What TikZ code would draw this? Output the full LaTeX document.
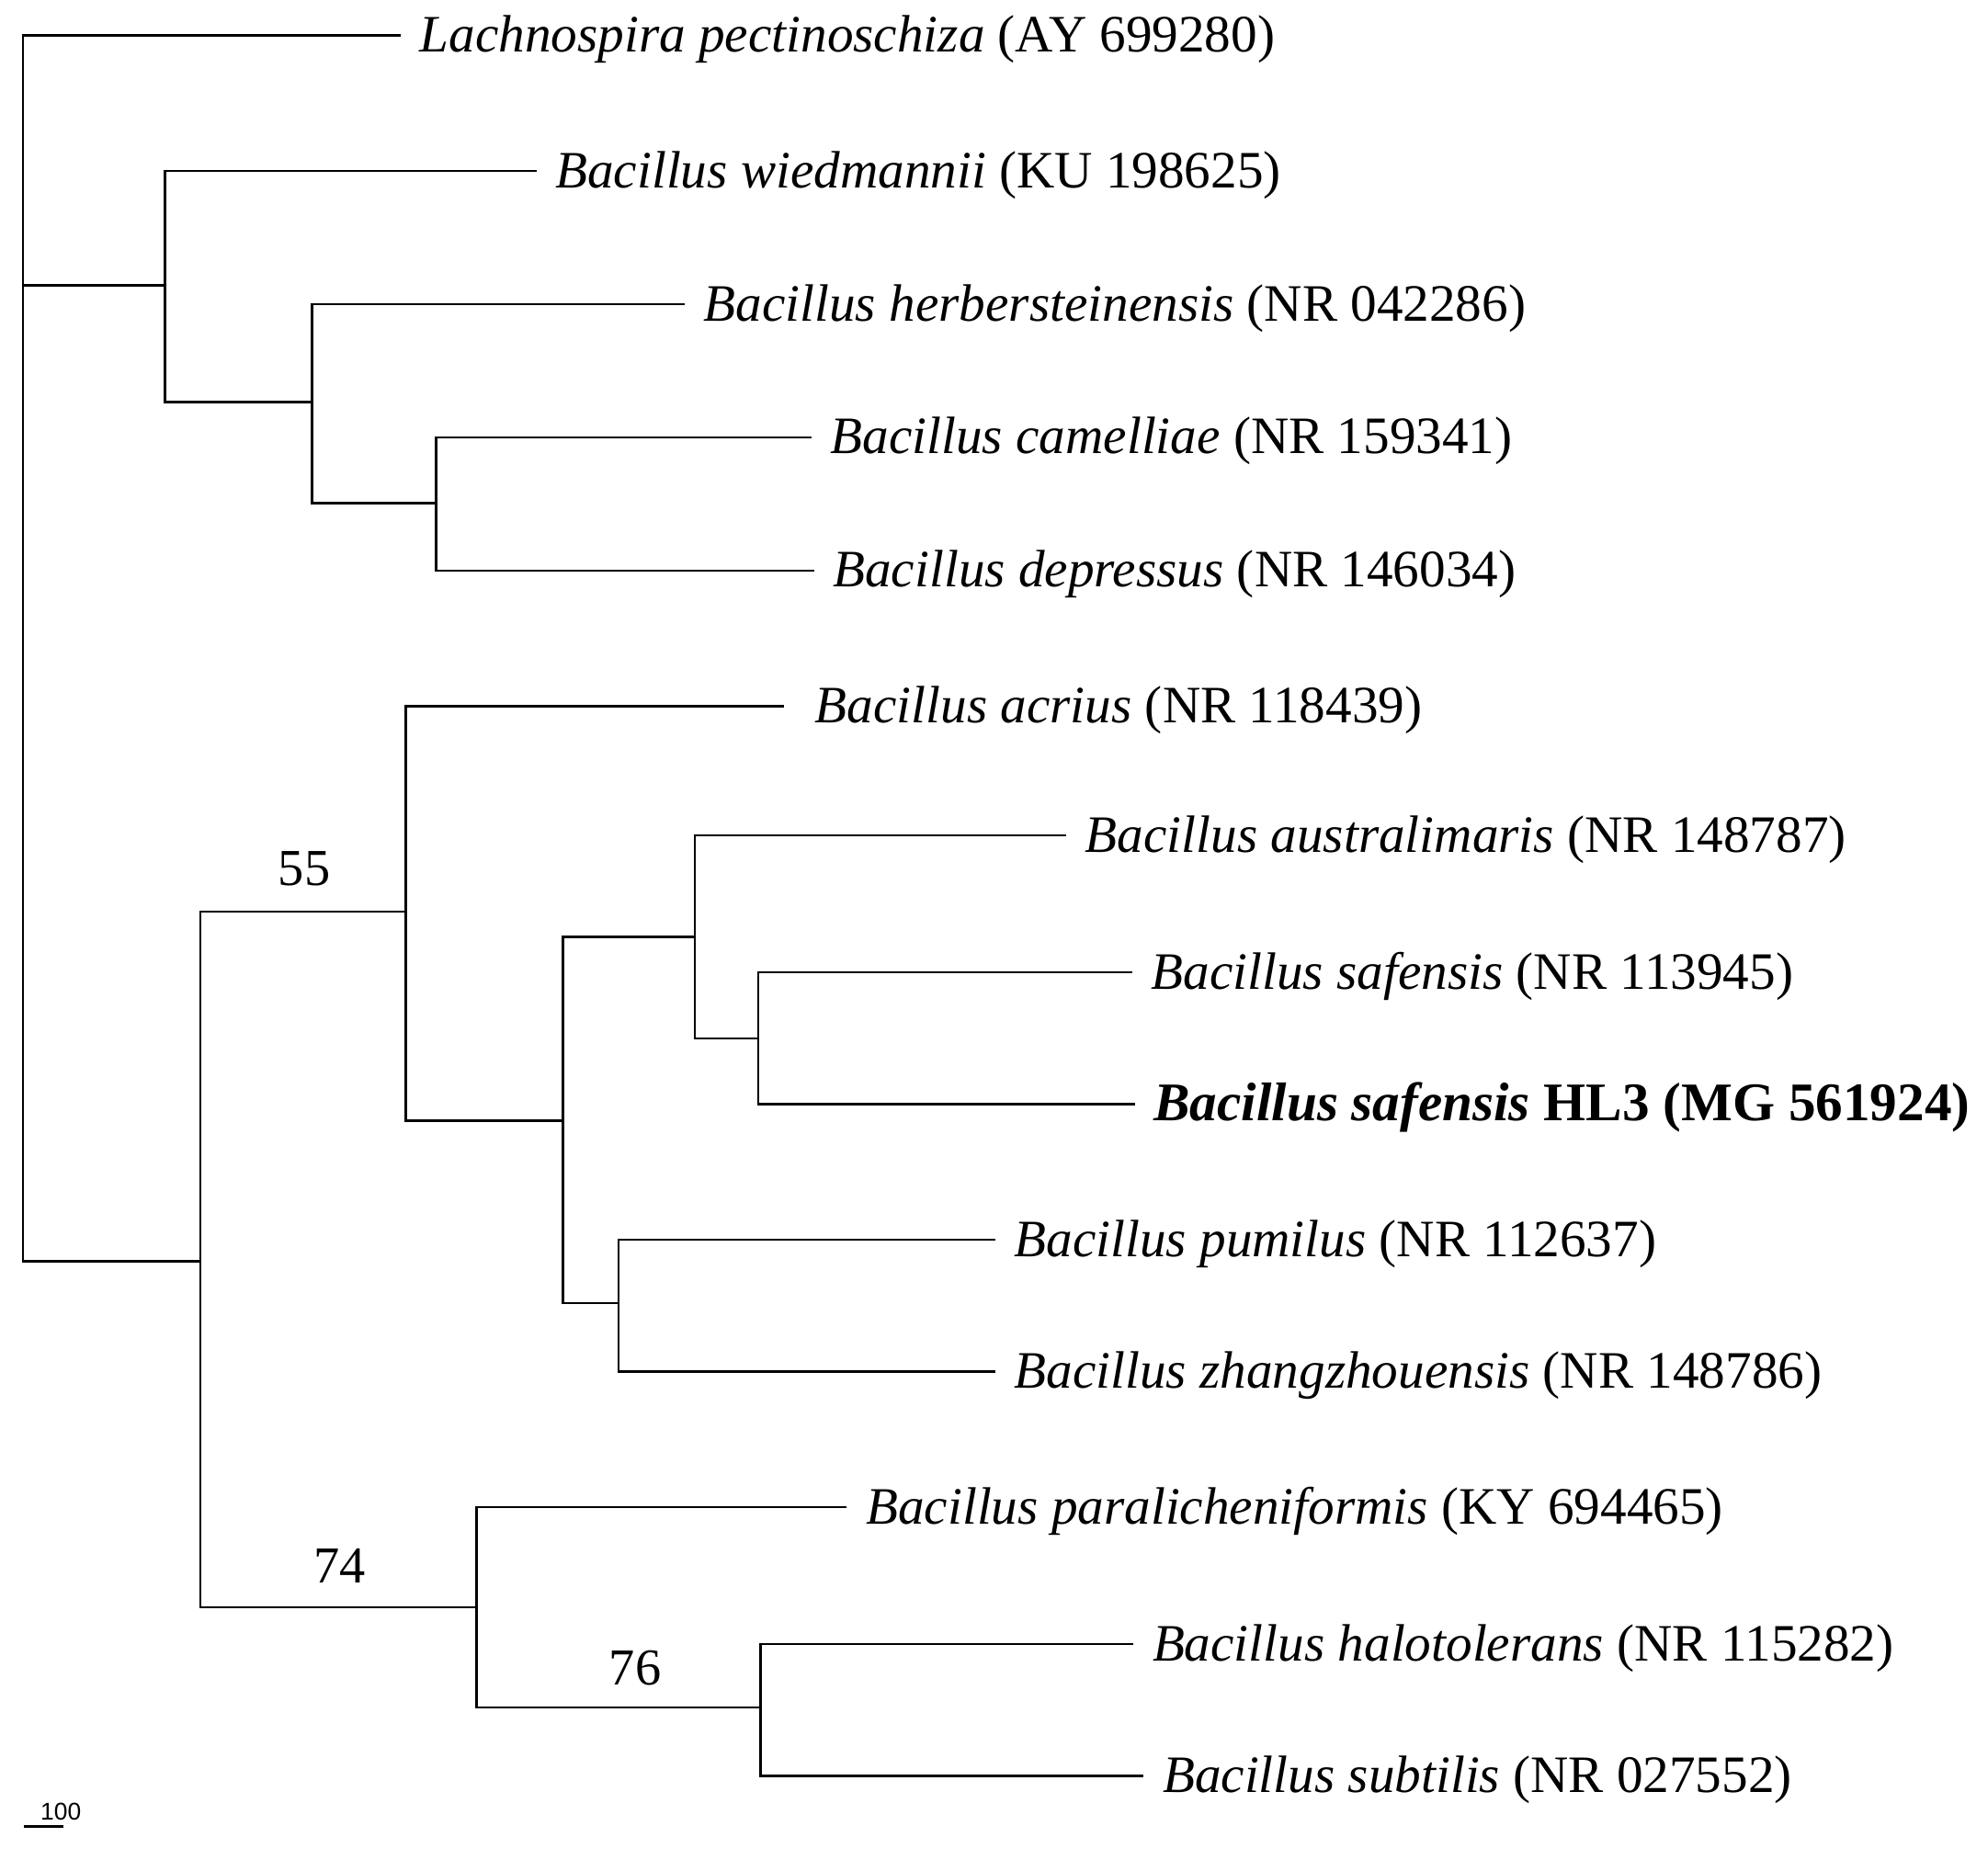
\documentclass[tikz,border=0pt]{standalone}
\usepackage{fontspec}
\setmainfont{Liberation Serif}
\newfontfamily\sbfont{Liberation Sans}
\begin{document}
\begin{tikzpicture}[x=0.34487pt, y=-0.34487pt,
  br/.style={line width=0.6pt, black},
  leaf/.style={anchor=west, inner xsep=5pt, inner ysep=0pt, text height=11pt, text depth=2pt, font=\fontsize{14.3}{16}\selectfont},
  boot/.style={font=\fontsize{14.1}{16}\selectfont, inner sep=0pt}]
\useasboundingbox (0,0) rectangle (1568,1467);
% leaf labels
\node[leaf] (lach) at (316,28) {\textit{Lachnospira pectinoschiza} (AY 699280)};
\node[leaf] (wied) at (423,135) {\textit{Bacillus wiedmannii} (KU 198625)};
\node[leaf] (herb) at (540,240) {\textit{Bacillus herbersteinensis} (NR 042286)};
\node[leaf] (cam) at (640,345) {\textit{Bacillus camelliae} (NR 159341)};
\node[leaf] (dep) at (642,450) {\textit{Bacillus depressus} (NR 146034)};
\node[leaf, inner xsep=8.4pt] (acr) at (618,557) {\textit{Bacillus acrius} (NR 118439)};
\node[leaf] (aus) at (841,659) {\textit{Bacillus australimaris} (NR 148787)};
\node[leaf] (saf) at (893,767) {\textit{Bacillus safensis} (NR 113945)};
\node[leaf, font=\fontsize{14.8}{16}\selectfont] (hl3) at (895,871) {\textbf{\textit{Bacillus safensis} HL3 (MG 561924)}};
\node[leaf] (pum) at (785,978) {\textit{Bacillus pumilus} (NR 112637)};
\node[leaf] (zha) at (785,1082) {\textit{Bacillus zhangzhouensis} (NR 148786)};
\node[leaf] (par) at (668,1189) {\textit{Bacillus paralicheniformis} (KY 694465)};
\node[leaf] (hal) at (894,1297) {\textit{Bacillus halotolerans} (NR 115282)};
\node[leaf] (sub) at (902,1401) {\textit{Bacillus subtilis} (NR 027552)};
% internal nodes
\coordinate (root) at (18,225);
\coordinate (wn) at (130,225);
\coordinate (hn) at (246,317);
\coordinate (cn) at (344,397);
\coordinate (ln) at (158,995);
\coordinate (n55) at (320,719);
\coordinate (na) at (444,884);
\coordinate (nb) at (548,739);
\coordinate (nd) at (598,819);
\coordinate (nc) at (488,1028);
\coordinate (n74) at (376,1268);
\coordinate (n76) at (600,1347);
% branches
\draw[br] (root) |- (lach.west);
\draw[br] (root) |- (wn);
\draw[br] (root) |- (ln);
\draw[br] (wn) |- (wied.west);
\draw[br] (wn) |- (hn);
\draw[br] (hn) |- (herb.west);
\draw[br] (hn) |- (cn);
\draw[br] (cn) |- (cam.west);
\draw[br] (cn) |- (dep.west);
\draw[br] (ln) |- (n55);
\draw[br] (ln) |- (n74);
\draw[br] (n55) |- (acr.west);
\draw[br] (n55) |- (na);
\draw[br] (na) |- (nb);
\draw[br] (na) |- (nc);
\draw[br] (nb) |- (aus.west);
\draw[br] (nb) |- (nd);
\draw[br] (nd) |- (saf.west);
\draw[br] (nd) |- (hl3.west);
\draw[br] (nc) |- (pum.west);
\draw[br] (nc) |- (zha.west);
\draw[br] (n74) |- (par.west);
\draw[br] (n74) |- (n76);
\draw[br] (n76) |- (hal.west);
\draw[br] (n76) |- (sub.west);
% bootstrap values
\node[boot] (b55) at (240,685) {55};
\node[boot] (b74) at (268,1235) {74};
\node[boot] (b76) at (501,1316) {76};
% scale bar
\coordinate (sb1) at (19,1441);
\coordinate (sb2) at (50,1441);
\draw[line width=0.7pt] (sb1) -- (sb2);
\node[font=\sbfont\fontsize{6.6}{8}\selectfont, inner sep=0pt] (sbl) at (48,1429) {100};
\end{tikzpicture}
\end{document}
